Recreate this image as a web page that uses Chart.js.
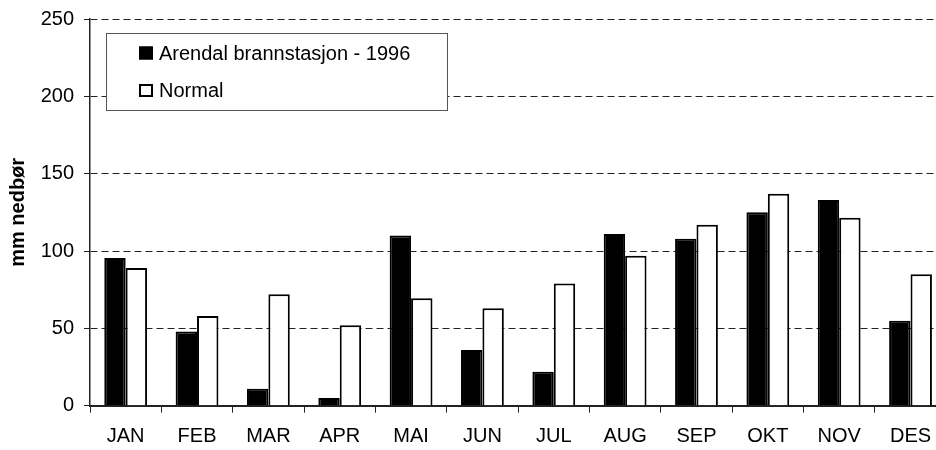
<!DOCTYPE html>
<html>
<head>
<meta charset="utf-8">
<script src="https://cdn.jsdelivr.net/npm/chart.js@4/dist/chart.umd.min.js"></script>
<style>
html,body{margin:0;padding:0;background:#fff;overflow:hidden;}
#wrap{position:relative;width:950px;height:450px;}
</style>
</head>
<body>
<div id="wrap"><canvas id="c" width="950" height="450"></canvas></div>
<script>
const months = ["JAN","FEB","MAR","APR","MAI","JUN","JUL","AUG","SEP","OKT","NOV","DES"];
const arendal1996 = [95.5, 48, 11, 5, 110, 36, 22, 111, 108, 125, 133, 55];
const normal = [89, 58, 72, 52, 69.5, 63, 79, 97, 117, 137, 121.5, 85];
const seriesNames = ["Arendal brannstasjon - 1996", "Normal"];
const yTitle = "mm nedbør";

const FONT = "'Liberation Sans', Arial, sans-serif";

const legendBox = {
  id: 'legendBox',
  afterDraw(chart) {
    const ctx = chart.ctx;
    const x0 = 106, y0 = 33, w = 341, h = 77;
    ctx.save();
    ctx.fillStyle = '#fff';
    ctx.fillRect(x0, y0, w, h);
    ctx.strokeStyle = '#555';
    ctx.lineWidth = 1;
    ctx.strokeRect(x0 + 0.5, y0 + 0.5, w, h);
    const rows = [53, 90.5];
    chart.data.datasets.forEach((ds, i) => {
      const cy = rows[i];
      ctx.fillStyle = ds.backgroundColor;
      ctx.fillRect(139, cy - 6.5, 14, 13);
      ctx.strokeStyle = '#000';
      ctx.lineWidth = 2;
      ctx.strokeRect(140, cy - 5.5, 12, 11);
      ctx.fillStyle = '#000';
      ctx.font = '20px ' + FONT;
      ctx.textBaseline = 'middle';
      ctx.textAlign = 'left';
      ctx.fillText(ds.label, 159, cy + 1);
    });
    ctx.restore();
  }
};

const chart = new Chart(document.getElementById('c'), {
  type: 'bar',
  data: {
    labels: months,
    datasets: [
      { label: seriesNames[0], data: arendal1996, backgroundColor: '#000', borderColor: '#000', borderWidth: 2,
        categoryPercentage: 0.6, barPercentage: 1.0 },
      { label: seriesNames[1], data: normal, backgroundColor: '#fff', borderColor: '#000', borderWidth: 2,
        categoryPercentage: 0.6, barPercentage: 1.0 }
    ]
  },
  options: {
    responsive: false,
    animation: false,
    layout: { padding: { top: 19, right: 3.8, left: 0, bottom: 0 } },
    plugins: { legend: { display: false }, tooltip: { enabled: false } },
    scales: {
      x: {
        offset: true,
        grid: { display: true, drawOnChartArea: false, offset: true, tickLength: 7, color: '#222', lineWidth: 1 },
        border: { display: true, color: '#222', width: 2 },
        ticks: { color: '#000', font: { family: FONT, size: 20 }, padding: 12, maxRotation: 0, autoSkip: false },
        afterFit(s) { s.height = 44.3; s.paddingLeft = 0; s.paddingRight = 0; }
      },
      y: {
        min: 0, max: 250,
        ticks: { stepSize: 50, color: '#000', font: { family: FONT, size: 20 }, padding: 10 },
        grid: { color: '#222', lineWidth: 1, tickLength: 6, tickBorderDash: [], tickColor: '#222' },
        border: { display: true, color: '#222', width: 1.5, dash: [7, 4] },
        title: { display: true, text: yTitle, color: '#000', font: { family: FONT, size: 20, weight: 'bold' }, padding: { top: 6, bottom: 0 } },
        afterFit(s) { s.width = 90; s.paddingTop = 0; s.paddingBottom = 0; }
      }
    }
  },
  plugins: [legendBox]
});
</script>
</body>
</html>
